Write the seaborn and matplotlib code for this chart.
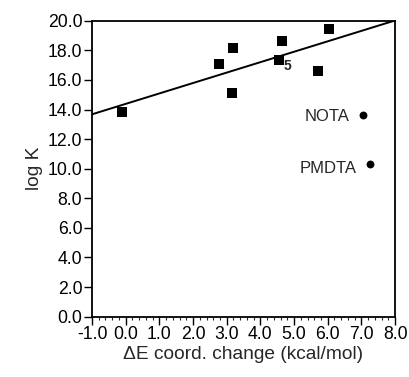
import numpy as np
import pandas as pd
import seaborn as sns
import matplotlib.pyplot as plt
from matplotlib.ticker import MultipleLocator, FormatStrFormatter

# ligands (squares) used for the fit
dE = [-0.10, 2.76, 3.20, 3.15, 4.64, 4.55, 5.70, 6.04]
logK = [13.85, 17.09, 18.18, 15.09, 18.60, 17.32, 16.58, 19.44]

# outliers (circles)
out_names = ["NOTA", "PMDTA"]
out_dE = [7.06, 7.24]
out_logK = [13.65, 10.34]

df = pd.DataFrame({"dE": dE, "logK": logK})
df_out = pd.DataFrame({"name": out_names, "dE": out_dE, "logK": out_logK})

sns.set_style("ticks")
plt.rcParams['font.family'] = ['Liberation Sans', 'DejaVu Sans']

fig = plt.figure(figsize=(4.09, 3.77), dpi=100)
ax = fig.add_axes([0.225, 0.16, 0.741, 0.785])

ax.set_xlim(-1.0, 8.0)
ax.set_ylim(0.0, 20.0)

# least-squares line across the full x range
sns.regplot(data=df, x="dE", y="logK", ax=ax, scatter=False, ci=None,
            truncate=False, color="black", line_kws={"linewidth": 1.4})
sns.scatterplot(data=df, x="dE", y="logK", ax=ax, marker="s", s=50,
                color="black", edgecolor="black", linewidth=0)
sns.scatterplot(data=df_out, x="dE", y="logK", ax=ax, marker="o", s=32,
                color="black", edgecolor="black", linewidth=0)

ax.text(4.80, 16.95, "5", fontsize=10, fontweight="bold", ha="center", va="center")
ax.text(6.66, 13.55, "NOTA", fontsize=12, ha="right", va="center")
ax.text(6.85, 10.0, "PMDTA", fontsize=12, ha="right", va="center")

ax.set_xlim(-1.0, 8.0)
ax.set_ylim(0.0, 20.0)
ax.xaxis.set_major_locator(MultipleLocator(1.0))
ax.xaxis.set_minor_locator(MultipleLocator(0.2))
ax.yaxis.set_major_locator(MultipleLocator(2.0))
ax.xaxis.set_major_formatter(FormatStrFormatter("%.1f"))
ax.yaxis.set_major_formatter(FormatStrFormatter("%.1f"))
ax.tick_params(axis="both", which="major", direction="out", length=5.5, width=1,
               labelsize=12.7, colors="black", pad=1.5)
ax.tick_params(axis="x", which="minor", direction="out", length=2.5, width=0.8)

for sp in ax.spines.values():
    sp.set_linewidth(1.3)
    sp.set_color("black")

ax.set_xlabel("ΔE coord. change (kcal/mol)", fontsize=13.8, labelpad=2)
ax.set_ylabel("log K", fontsize=13.8, labelpad=3)

fig.savefig("out.png", dpi=100)
